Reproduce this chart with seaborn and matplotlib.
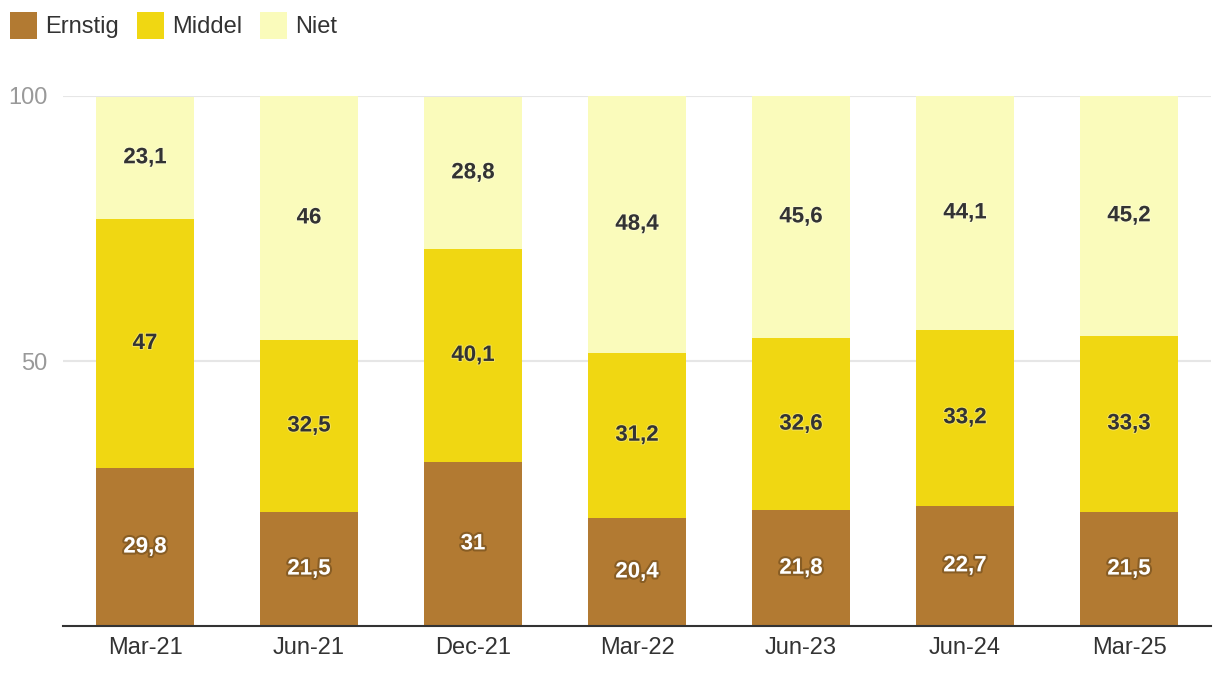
import pandas as pd
import matplotlib.pyplot as plt
import matplotlib.patheffects as pe
from matplotlib.patches import Patch
import seaborn as sns

periods = ['Mar-21', 'Jun-21', 'Dec-21', 'Mar-22', 'Jun-23', 'Jun-24', 'Mar-25']
ernstig = [29.8, 21.5, 31, 20.4, 21.8, 22.7, 21.5]
middel = [47, 32.5, 40.1, 31.2, 32.6, 33.2, 33.3]
niet = [23.1, 46, 28.8, 48.4, 45.6, 44.1, 45.2]

series = ['Ernstig', 'Middel', 'Niet']
colors = {'Ernstig': '#b27a32', 'Middel': '#f0d712', 'Niet': '#fafbbb'}

df = pd.DataFrame({'period': periods, 'Ernstig': ernstig, 'Middel': middel, 'Niet': niet})
df['c1'] = df['Ernstig']
df['c2'] = df['c1'] + df['Middel']
df['c3'] = df['c2'] + df['Niet']

sns.set_style('white')
plt.rcParams['font.family'] = ['Liberation Sans', 'DejaVu Sans']

fig = plt.figure(figsize=(12.2, 6.76), dpi=100)
ax = fig.add_axes([63 / 1220, 1 - 626 / 676, (1211 - 63) / 1220, (626 - 96) / 676])

# stacked bars: draw cumulative totals from tallest to shortest
for col, name in [('c3', 'Niet'), ('c2', 'Middel'), ('c1', 'Ernstig')]:
    sns.barplot(data=df, x='period', y=col, color=colors[name], width=0.6,
                saturation=1, linewidth=0, ax=ax, zorder=3)

def fmt(v):
    s = f'{v:.1f}'.replace('.', ',')
    return s[:-2] if s.endswith(',0') else s

for i, row in df.iterrows():
    lows = [0, row['c1'], row['c2']]
    highs = [row['c1'], row['c2'], row['c3']]
    for name, lo, hi in zip(series, lows, highs):
        if name == 'Ernstig':
            tc, eff = 'white', [pe.withStroke(linewidth=3, foreground='#4a3210', alpha=0.4)]
        else:
            tc, eff = '#333333', [pe.withStroke(linewidth=1.5, foreground='white', alpha=0.3)]
        ax.text(i, (lo + hi) / 2, fmt(row[name]), ha='center', va='center',
                fontsize=16, fontweight='bold', color=tc, path_effects=eff, zorder=5)

ax.set_ylim(0, 100)
ax.set_xlim(-0.5, len(periods) - 0.5)
ax.set_yticks([50, 100])
ax.yaxis.grid(True, color='#e6e6e6', linewidth=1.5, zorder=0)
ax.set_axisbelow(True)
ax.tick_params(axis='y', length=0, pad=11, labelsize=17, labelcolor='#999999')
ax.tick_params(axis='x', length=0, pad=8, labelsize=17, labelcolor='#333333')
ax.set_xlabel('')
ax.set_ylabel('')
for s in ['top', 'right', 'left']:
    ax.spines[s].set_visible(False)
ax.spines['bottom'].set_color('#333333')
ax.spines['bottom'].set_linewidth(1.5)
ax.spines['bottom'].set_zorder(6)

handles = [Patch(facecolor=colors[n], edgecolor='none', label=n) for n in series]
fig.legend(handles=handles, loc='upper left', bbox_to_anchor=(10 / 1220, 1 - 12 / 676), ncol=3,
           frameon=False, fontsize=17, handlelength=1.15, handleheight=1.4,
           handletextpad=0.35, columnspacing=0.75, borderaxespad=0, borderpad=0,
           labelcolor='#333333')

plt.savefig('out.png', dpi=100)
plt.close()
